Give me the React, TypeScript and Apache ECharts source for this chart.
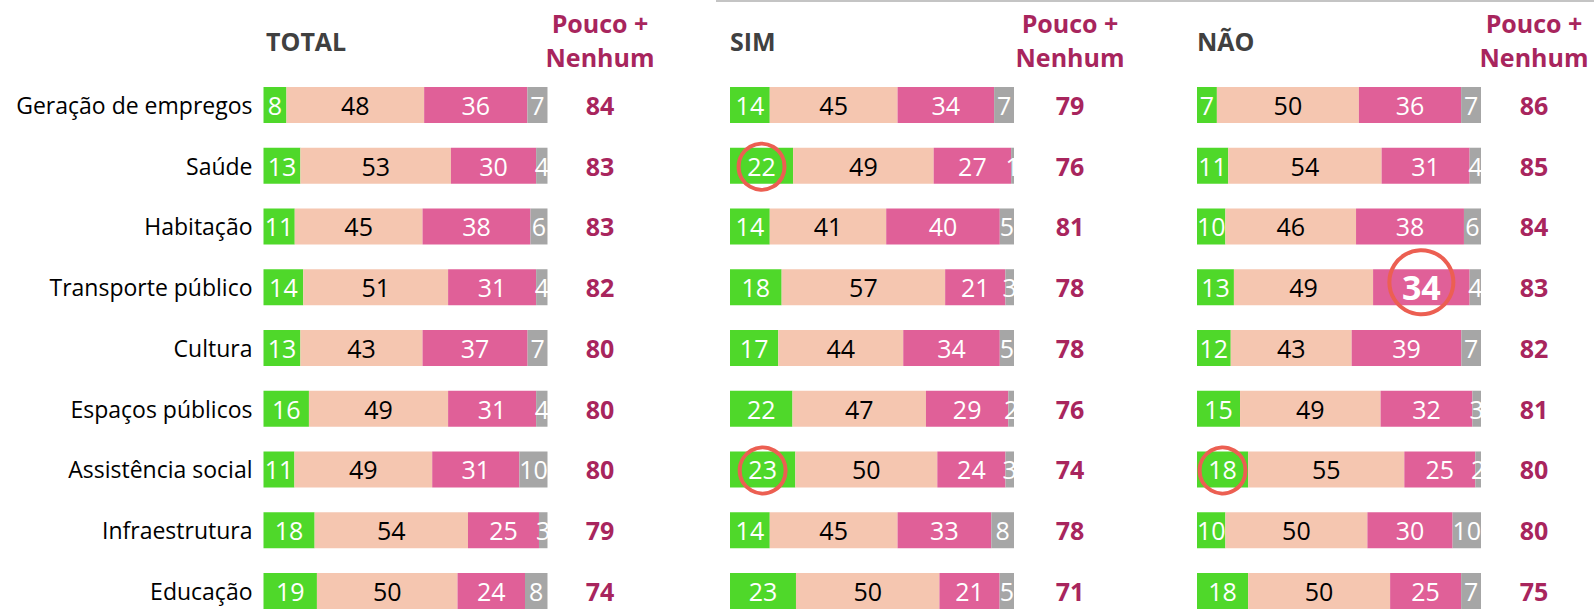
import React, { useEffect, useRef } from "react";
import * as echarts from "echarts";

const categories = [
  "Geração de empregos",
  "Saúde",
  "Habitação",
  "Transporte público",
  "Cultura",
  "Espaços públicos",
  "Assistência social",
  "Infraestrutura",
  "Educação",
];

const panelNames = ["TOTAL", "SIM", "NÃO"];
const segmentNames = ["Muito", "Pouco", "Nenhum", "Não sabe"];
const pnHeader = "Pouco +\nNenhum";

// TOTAL
const totalMuito = [8, 13, 11, 14, 13, 16, 11, 18, 19];
const totalPouco = [48, 53, 45, 51, 43, 49, 49, 54, 50];
const totalNenhum = [36, 30, 38, 31, 37, 31, 31, 25, 24];
const totalNS = [7, 4, 6, 4, 7, 4, 10, 3, 8];
const totalPN = [84, 83, 83, 82, 80, 80, 80, 79, 74];

// SIM
const simMuito = [14, 22, 14, 18, 17, 22, 23, 14, 23];
const simPouco = [45, 49, 41, 57, 44, 47, 50, 45, 50];
const simNenhum = [34, 27, 40, 21, 34, 29, 24, 33, 21];
const simNS = [7, 1, 5, 3, 5, 2, 3, 8, 5];
const simPN = [79, 76, 81, 78, 78, 76, 74, 78, 71];

// NÃO
const naoMuito = [7, 11, 10, 13, 12, 15, 18, 10, 18];
const naoPouco = [50, 54, 46, 49, 43, 49, 55, 50, 50];
const naoNenhum = [36, 31, 38, 34, 39, 32, 25, 30, 25];
const naoNS = [7, 4, 6, 4, 7, 3, 2, 10, 7];
const naoPN = [86, 85, 84, 83, 82, 81, 80, 80, 75];

// highlighted cells: panel index, row index, segment index
const highlightPanel = [1, 1, 2, 2];
const highlightRow = [1, 6, 6, 3];
const highlightSeg = [0, 0, 0, 2];
const highlightBig = [false, false, false, true];

const panelData = [
  [totalMuito, totalPouco, totalNenhum, totalNS],
  [simMuito, simPouco, simNenhum, simNS],
  [naoMuito, naoPouco, naoNenhum, naoNS],
];
const panelPN = [totalPN, simPN, naoPN];

const FONT = "'Open Sans', sans-serif";
const segColors = ["#4fd82a", "#f5c6b0", "#e06098", "#a6a6a6"];
const segLabelColors = ["#ffffff", "#000000", "#ffffff", "#ffffff"];
const pnColor = "#a8255d";
const headColor = "#404040";
const circleColor = "#ec5f52";

const barLefts = [263.5, 730, 1197];
const headerX = [266, 730, 1197];
const valueX = [600, 1070, 1534];
const BAR_W = 284;
const GRID_TOP = 74.6;
const GRID_H = 546.75;

function buildOption() {
  const grid: any[] = [];
  const xAxis: any[] = [];
  const yAxis: any[] = [];
  const series: any[] = [];
  const graphic: any[] = [];

  panelNames.forEach((pname, p) => {
    const segs = panelData[p];
    const sums = categories.map((_, i) => segs.reduce((a, s) => a + s[i], 0));
    const gi = grid.length;
    grid.push({
      left: barLefts[p],
      width: BAR_W,
      top: GRID_TOP,
      height: GRID_H,
      containLabel: false,
      outerBoundsMode: "none",
    });
    xAxis.push({ gridIndex: gi, type: "value", min: 0, max: 100, show: false });
    yAxis.push({
      gridIndex: gi,
      type: "category",
      data: categories,
      inverse: true,
      axisLine: { show: false },
      axisTick: { show: false },
      splitLine: { show: false },
      axisLabel: {
        show: p === 0,
        color: "#000",
        fontSize: 23,
        fontFamily: FONT,
        margin: 11,
      },
    });
    segs.forEach((arr, s) => {
      series.push({
        type: "bar",
        name: segmentNames[s],
        xAxisIndex: gi,
        yAxisIndex: gi,
        stack: "p" + p,
        barWidth: 36,
        itemStyle: { color: segColors[s] },
        label: {
          show: true,
          position: "inside",
          color: segLabelColors[s],
          fontSize: 25,
          fontFamily: FONT,
          formatter: (pr: any) => String(pr.data.raw),
        },
        data: arr.map((v, i) => {
          const item: any = { value: (v / sums[i]) * 100, raw: v };
          highlightPanel.forEach((hp, h) => {
            if (hp === p && highlightRow[h] === i && highlightSeg[h] === s && highlightBig[h]) {
              item.label = { fontSize: 34, fontWeight: "bold" };
            }
          });
          return item;
        }),
      });
    });
    // highlight circles
    const circ: any[] = [];
    highlightPanel.forEach((hp, h) => {
      if (hp !== p) return;
      const r = highlightRow[h];
      const sg = highlightSeg[h];
      let before = 0;
      for (let k = 0; k < sg; k++) before += segs[k][r];
      const mid = ((before + segs[sg][r] / 2) / sums[r]) * 100;
      circ.push({
        value: [mid, r],
        symbolSize: highlightBig[h] ? 64 : 46,
        symbolOffset: highlightBig[h] ? [0, -5] : [0, 1],
      });
    });
    if (circ.length) {
      series.push({
        type: "scatter",
        xAxisIndex: gi,
        yAxisIndex: gi,
        symbol: "circle",
        z: 5,
        itemStyle: { color: "rgba(0,0,0,0)", borderColor: circleColor, borderWidth: 4, opacity: 1 },
        data: circ,
      });
    }

    // values column
    const vi = grid.length;
    grid.push({
      left: valueX[p] - 40,
      width: 80,
      top: GRID_TOP,
      height: GRID_H,
      outerBoundsMode: "none",
    });
    xAxis.push({ gridIndex: vi, type: "value", min: 0, max: 1, show: false });
    yAxis.push({ gridIndex: vi, type: "category", data: categories, inverse: true, show: false });
    series.push({
      type: "scatter",
      xAxisIndex: vi,
      yAxisIndex: vi,
      symbolSize: 1,
      itemStyle: { color: "rgba(0,0,0,0)", opacity: 1 },
      label: {
        show: true,
        position: "inside",
        color: pnColor,
        fontSize: 25,
        fontWeight: "bold",
        fontFamily: FONT,
        opacity: 1,
        formatter: (pr: any) => String(pr.data.raw),
      },
      data: panelPN[p].map((v, i) => ({ value: [0.5, i], raw: v })),
    });

    // headers
    graphic.push({
      type: "text",
      x: headerX[p],
      y: 41,
      style: {
        text: pname,
        fill: headColor,
        font: `bold 25px ${FONT}`,
        textAlign: "left",
        textVerticalAlign: "middle",
      },
    });
    graphic.push({
      type: "text",
      x: valueX[p],
      y: 40,
      style: {
        text: pnHeader,
        fill: pnColor,
        font: `bold 25px ${FONT}`,
        textAlign: "center",
        textVerticalAlign: "middle",
        lineHeight: 34,
      },
    });
    // mask overflow of labels beyond bar end
    graphic.push({
      type: "rect",
      z: 100,
      shape: { x: barLefts[p] + BAR_W + 0.5, y: 70, width: 24, height: 560 },
      style: { fill: "#ffffff" },
    });
  });

  graphic.push({
    type: "line",
    shape: { x1: 716, y1: 1, x2: 1594, y2: 1 },
    style: { stroke: "#c4c4c4", lineWidth: 2 },
  });

  return {
    animation: false,
    textStyle: { fontFamily: FONT },
    grid,
    xAxis,
    yAxis,
    series,
    graphic,
  };
}

export default function App() {
  const ref = useRef<HTMLDivElement>(null);
  useEffect(() => {
    document.body.style.margin = "0";
    if (!ref.current) return;
    const chart = echarts.init(ref.current, undefined, { renderer: "svg" });
    chart.setOption(buildOption() as any);
    return () => chart.dispose();
  }, []);
  return <div ref={ref} style={{ width: 1594, height: 611, background: "#fff" }} />;
}
